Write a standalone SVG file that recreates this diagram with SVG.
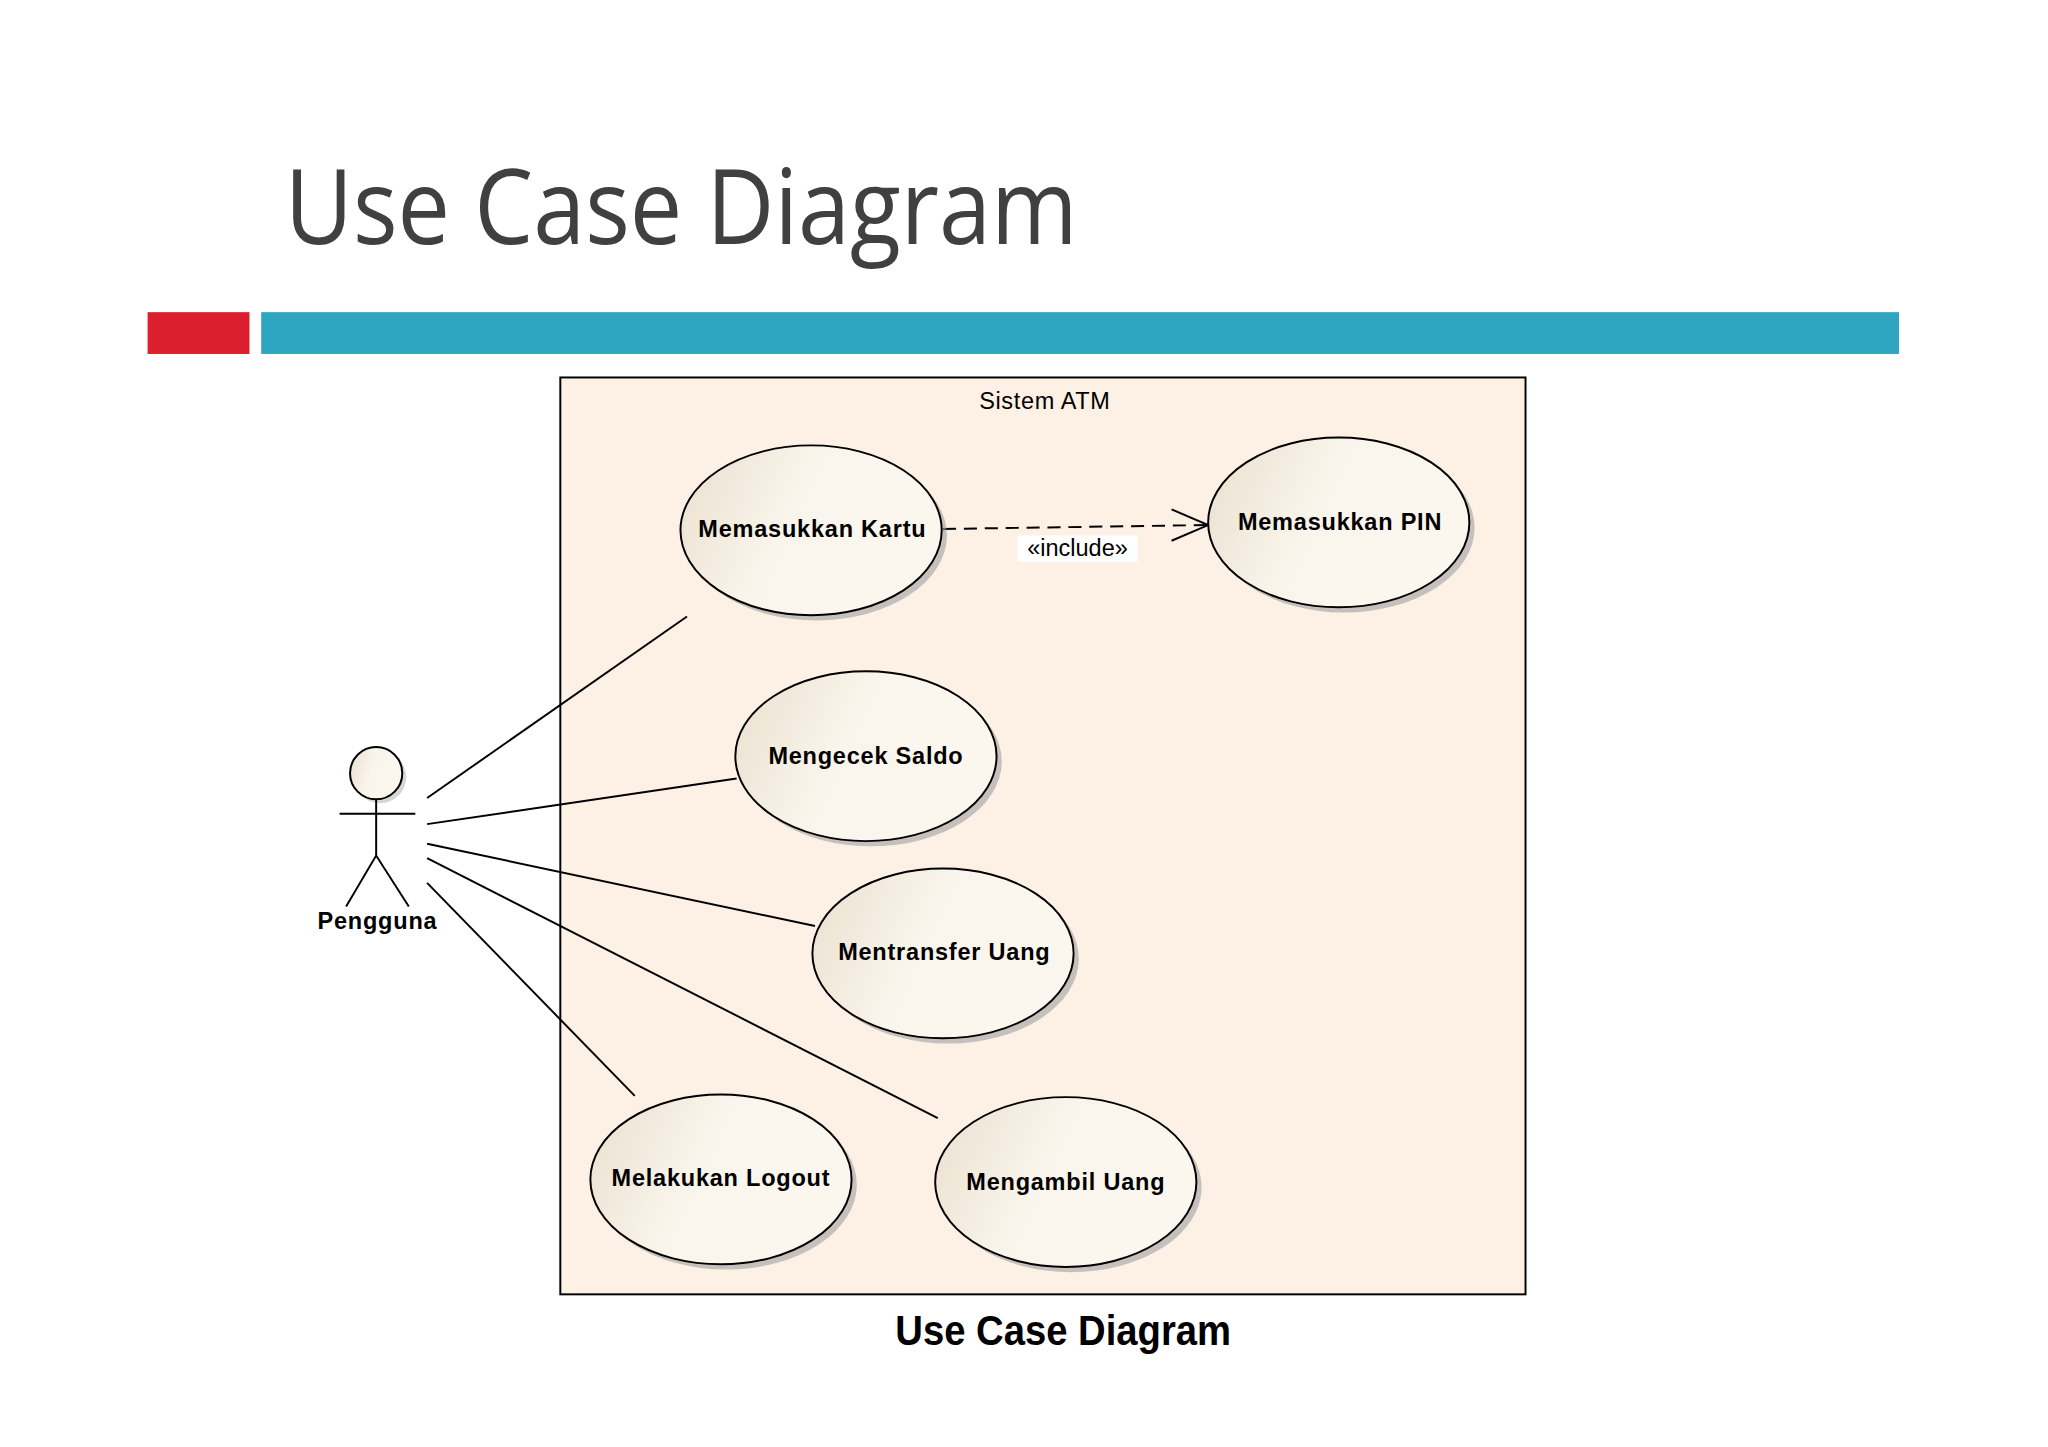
<svg xmlns="http://www.w3.org/2000/svg" width="2048" height="1447" viewBox="0 0 2048 1447">
<defs>
<linearGradient id="g" x1="0" y1="0" x2="1" y2="0.3">
<stop offset="0" stop-color="#e9dfcd"/><stop offset="0.5" stop-color="#faf5ec"/><stop offset="1" stop-color="#fbf7ef"/>
</linearGradient>
<style>
.uc ellipse.b{fill:url(#g);stroke:#000;stroke-width:1.5}
.uc ellipse.s{fill:#a0a0a0;opacity:0.6}
.t{font-family:"Liberation Sans",Arial,sans-serif;font-weight:bold;font-size:18px;text-anchor:middle;letter-spacing:0.6px}
.c line{stroke:#000;stroke-width:1.5}
</style>
</defs>
<rect width="2048" height="1447" fill="#fff"/>
<g transform="scale(1.3061)">
<text x="218" y="187" font-family="Open Sans,sans-serif" font-size="80" fill="#404040" textLength="607" lengthAdjust="spacingAndGlyphs">Use Case Diagram</text>
<rect x="113" y="239" width="78" height="32" fill="#dc1f2d"/>
<rect x="200" y="239" width="1254" height="32" fill="#2ea6c1"/>
<g id="system">
<rect x="429" y="289" width="739" height="702" fill="#fcf1e4" stroke="#000" stroke-width="1.5"/>
<text x="800" y="313" font-family="Liberation Sans,sans-serif" font-size="18" text-anchor="middle" letter-spacing="0.5">Sistem ATM</text>
</g>
<g class="c" id="connectors">
<line x1="327" y1="611" x2="526" y2="472"/>
<line x1="327" y1="631" x2="564" y2="596"/>
<line x1="327" y1="646" x2="624" y2="709"/>
<line x1="327" y1="657" x2="718" y2="856"/>
<line x1="327" y1="676" x2="486" y2="839"/>
<line x1="722" y1="405" x2="924" y2="402" stroke-dasharray="10,6"/>
<polyline points="897,390 925,402 897,414" fill="none" stroke="#000" stroke-width="1.5"/>
<rect x="779" y="410" width="92" height="20" fill="#fff"/>
<text x="825" y="426" font-family="Liberation Sans,sans-serif" font-size="18" text-anchor="middle">«include»</text>
</g>
<g id="actor" fill="none" stroke="#000" stroke-width="1.5">
<circle cx="291" cy="595" r="20" fill="#bbb" stroke="none" opacity="0.6"/>
<circle cx="288" cy="592" r="20" fill="url(#g)"/>
<line x1="260" y1="623" x2="318" y2="623"/><line x1="288" y1="612" x2="288" y2="655"/>
<polyline points="265,694 288,655 313,694"/>
<text x="289" y="711" class="t" fill="#000" stroke="none">Pengguna</text>
</g>
<g class="uc" id="uc1"><ellipse class="s" cx="625" cy="410" rx="100" ry="65"/><ellipse class="b" cx="621" cy="406" rx="100" ry="65"/><text class="t" x="622" y="411">Memasukkan Kartu</text></g>
<g class="uc" id="uc2"><ellipse class="s" cx="1029" cy="404" rx="100" ry="65"/><ellipse class="b" cx="1025" cy="400" rx="100" ry="65"/><text class="t" x="1026" y="406">Memasukkan PIN</text></g>
<g class="uc" id="uc3"><ellipse class="s" cx="667" cy="583" rx="100" ry="65"/><ellipse class="b" cx="663" cy="579" rx="100" ry="65"/><text class="t" x="663" y="585">Mengecek Saldo</text></g>
<g class="uc" id="uc4"><ellipse class="s" cx="726" cy="734" rx="100" ry="65"/><ellipse class="b" cx="722" cy="730" rx="100" ry="65"/><text class="t" x="723" y="735">Mentransfer Uang</text></g>
<g class="uc" id="uc5"><ellipse class="s" cx="556" cy="907" rx="100" ry="65"/><ellipse class="b" cx="552" cy="903" rx="100" ry="65"/><text class="t" x="552" y="908">Melakukan Logout</text></g>
<g class="uc" id="uc6"><ellipse class="s" cx="820" cy="909" rx="100" ry="65"/><ellipse class="b" cx="816" cy="905" rx="100" ry="65"/><text class="t" x="816" y="911">Mengambil Uang</text></g>
<text x="814" y="1030" font-family="Liberation Sans,sans-serif" font-weight="bold" font-size="32" text-anchor="middle" textLength="257" lengthAdjust="spacingAndGlyphs">Use Case Diagram</text>
</g>
</svg>
